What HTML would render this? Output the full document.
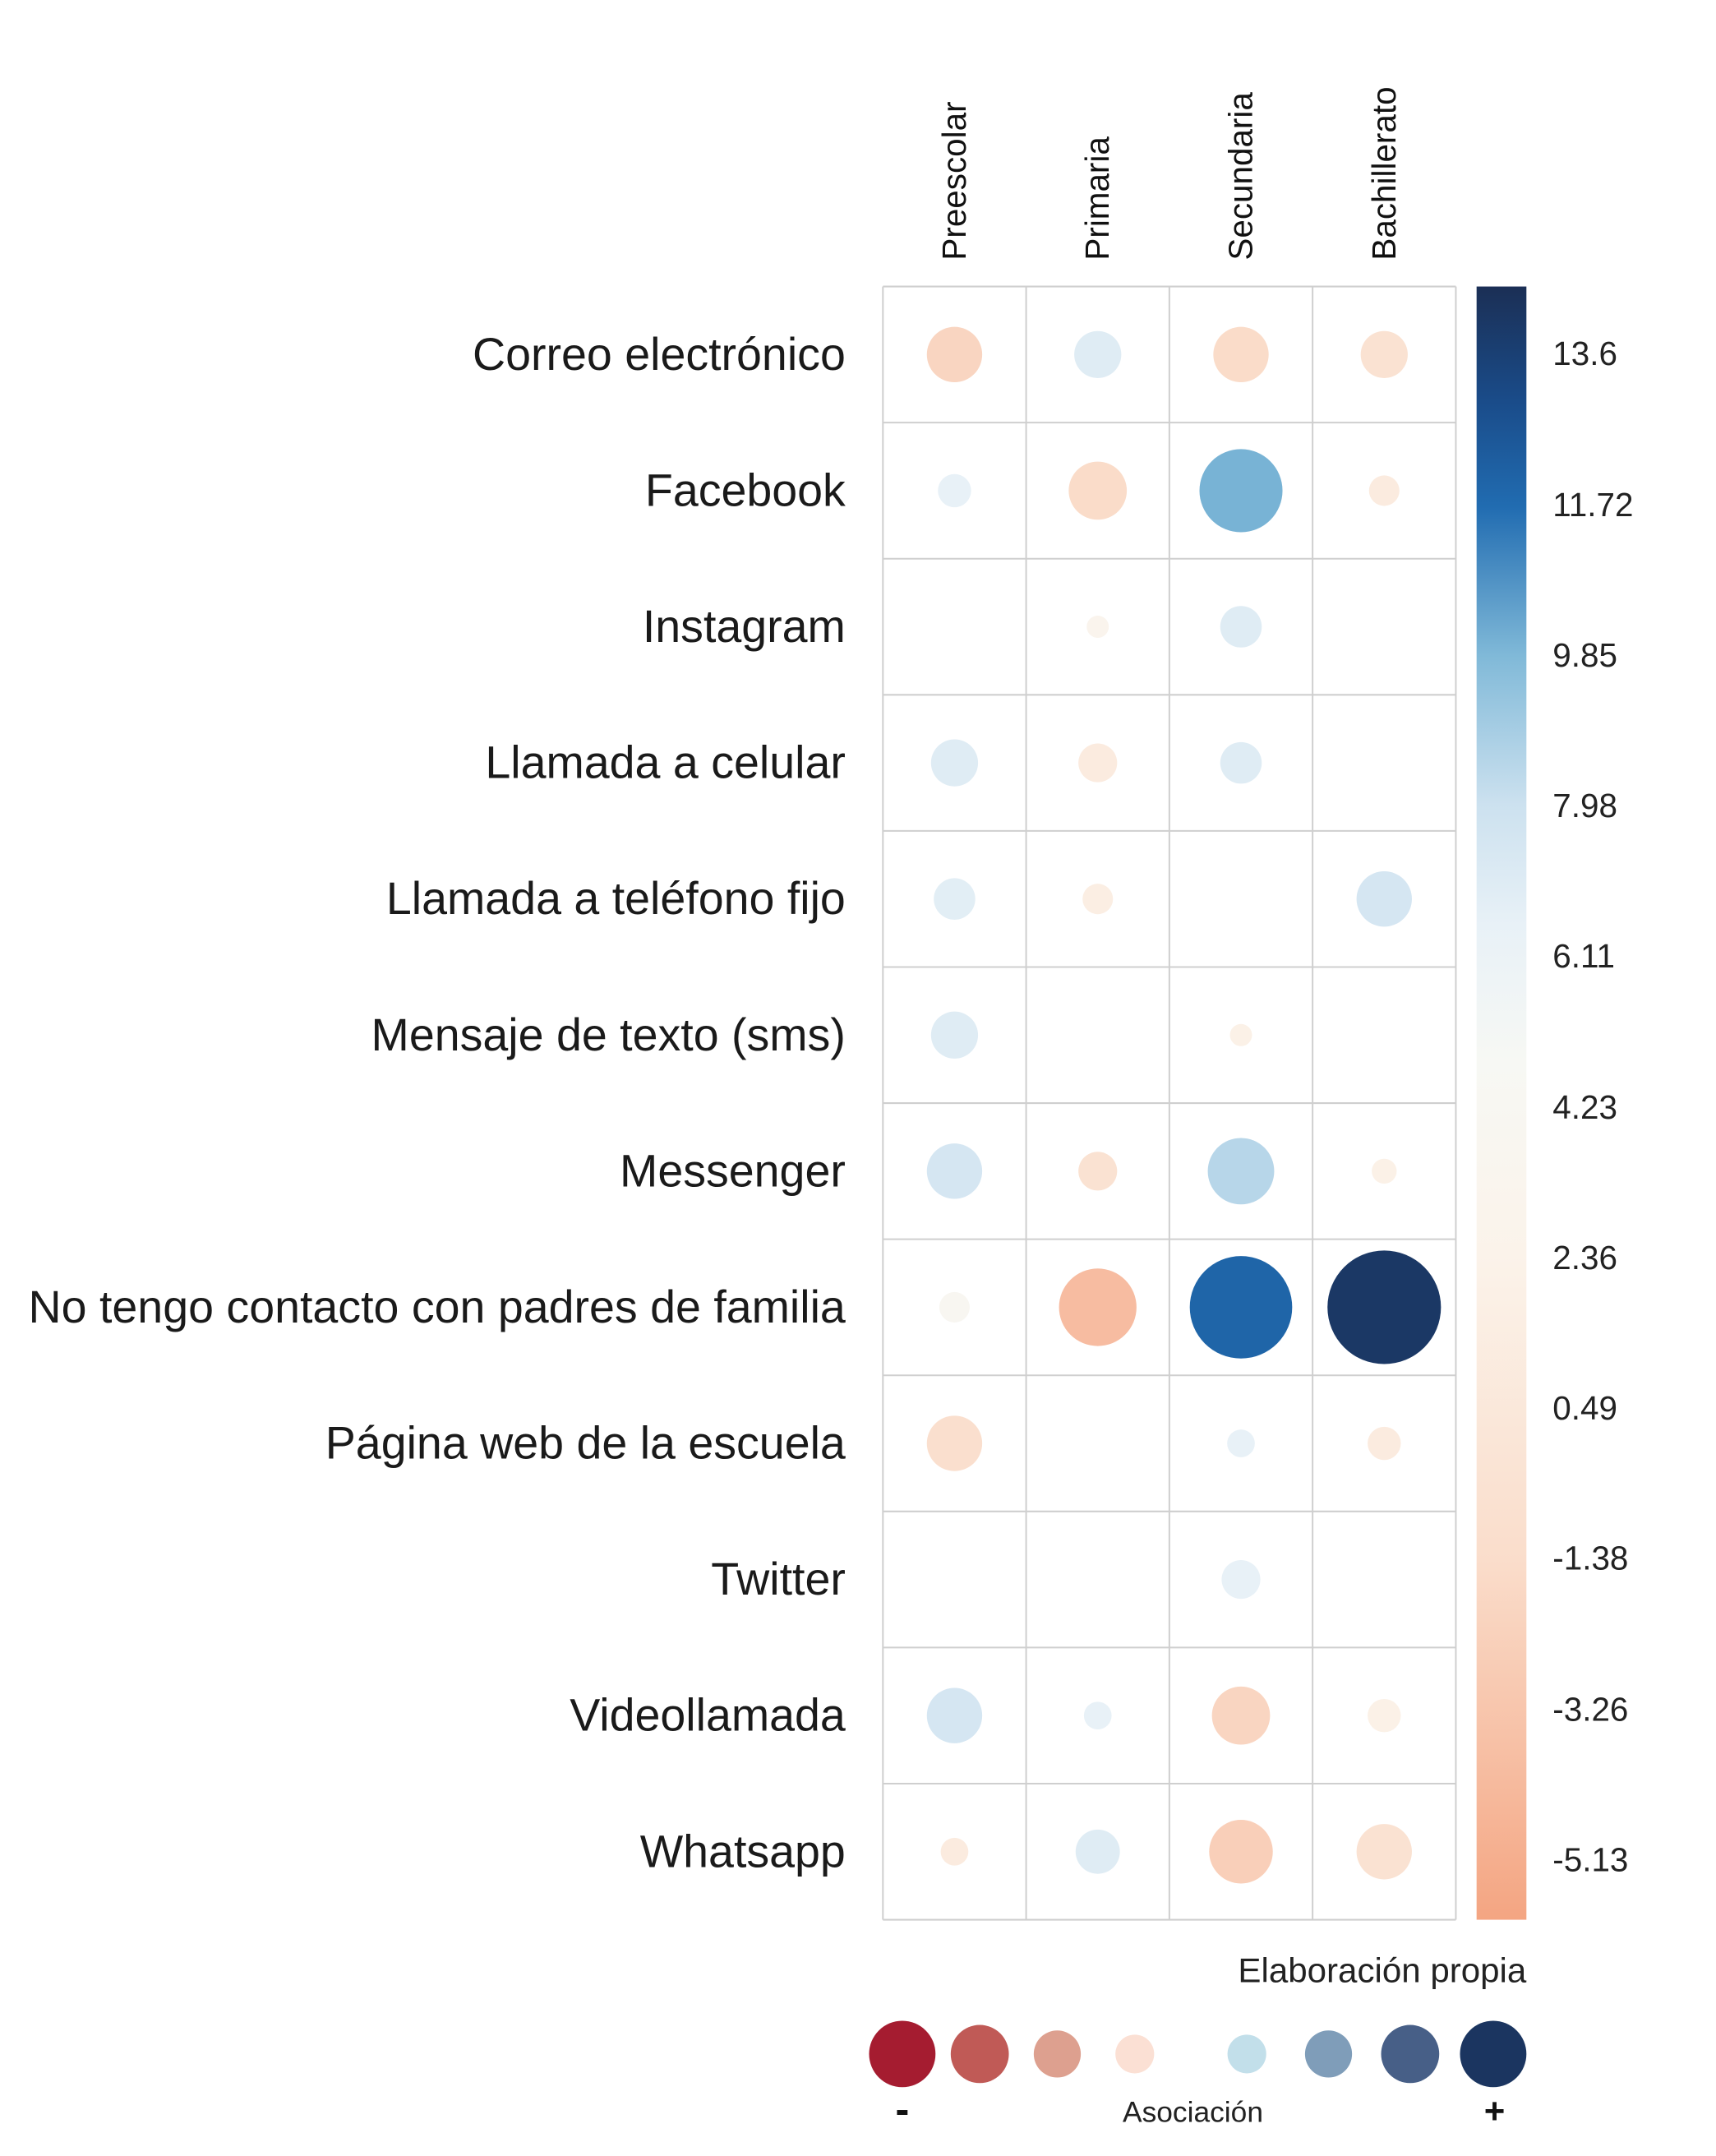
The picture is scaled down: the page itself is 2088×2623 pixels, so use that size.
<!DOCTYPE html>
<html><head><meta charset="utf-8"><style>
html,body{margin:0;padding:0;background:#fff;}
svg{display:block;font-family:"Liberation Sans",sans-serif;}
</style></head><body>
<svg id="chart" width="2088" height="2623" viewBox="0 0 1240 1557.7" preserveAspectRatio="none" xmlns="http://www.w3.org/2000/svg">
<defs><linearGradient id="cbgrad" x1="0" y1="1" x2="0" y2="0"></linearGradient></defs>
<g id="grid"></g>
<g id="rowlabels"></g>
<g id="collabels"></g>
<g id="bubbles"></g>
<rect x="1067" y="207" width="36" height="1180" fill="url(#cbgrad)"/>
<g id="cbticks"></g>
<text x="1103" y="1432" text-anchor="end" font-size="25" fill="#222">Elaboración propia</text>
<g id="legend"></g>
<text x="652" y="1534" text-anchor="middle" font-size="30" font-weight="bold" fill="#111">-</text>
<text x="862" y="1533" text-anchor="middle" font-size="21" fill="#222">Asociación</text>
<text x="1080" y="1534" text-anchor="middle" font-size="26" font-weight="bold" fill="#111">+</text>
</svg>
<script>
const rows=["Correo electrónico","Facebook","Instagram","Llamada a celular","Llamada a teléfono fijo","Mensaje de texto (sms)","Messenger","No tengo contacto con padres de familia","Página web de la escuela","Twitter","Videollamada","Whatsapp"];
const cols=["Preescolar","Primaria","Secundaria","Bachillerato"];
const values=[
[-2,7,-1.5,-0.5],
[6.5,-1.5,10,1],
[null,3,7,null],
[7,1,7,null],
[6.8,1.5,null,7.5],
[7,null,2,null],
[7.5,-0.5,8.5,2],
[4,-4,12,14],
[-1,null,6.5,1],
[null,null,6.5,null],
[7.5,6.5,-2,2],
[1,7,-2.5,-0.5]];
const sizes=[
[20,17,20,17],
[12,21,30,11],
[0,8,15,0],
[17,14,15,0],
[15,11,0,20],
[17,0,8,0],
[20,14,24,9],
[11,28,37,41],
[20,0,10,12],
[0,0,14,0],
[20,10,21,12],
[10,16,23,20]];
const tickLabels=["13.6","11.72","9.85","7.98","6.11","4.23","2.36","0.49","-1.38","-3.26","-5.13"];
const tickValues=[13.6,11.72,9.85,7.98,6.11,4.23,2.36,0.49,-1.38,-3.26,-5.13];
const legendSizes=[24,21,17,14,14,17,21,24];
const legendColors=["#a51c30","#c05a56","#dda08f","#fbe0d4","#c2dfea","#7f9db9","#475f87","#1b3560"];

const NS="http://www.w3.org/2000/svg";
const gx0=638,gx1=1052,gy0=207,gy1=1387;
const cw=(gx1-gx0)/cols.length, rh=(gy1-gy0)/rows.length;
const vTop=14.44,vBot=-5.87;
const xPos=i=>gx0+cw*(i+0.5);
const yPos=j=>gy0+rh*(j+0.5);
const yVal=v=>gy0+(vTop-v)/(vTop-vBot)*(gy1-gy0);
const stops=[[-5.87,[244,165,130]],[-1.4,[250,221,203]],[2.4,[251,243,234]],[4.8,[247,248,244]],[6.5,[232,241,247]],[8,[204,225,239]],[9.85,[128,185,216]],[11.7,[33,108,177]],[13.0,[26,76,138]],[14.44,[27,47,85]]];
function color(v){
 if(v<=stops[0][0])return rgb(stops[0][1]);
 for(let i=1;i<stops.length;i++){if(v<=stops[i][0]){const a=stops[i-1],b=stops[i];const t=(v-a[0])/(b[0]-a[0]);return rgb(a[1].map((c,k)=>c+(b[1][k]-c)*t));}}
 return rgb(stops[stops.length-1][1]);
}
function rgb(a){return "rgb("+a.map(Math.round).join(",")+")";}
function el(tag,attrs,parent){const e=document.createElementNS(NS,tag);for(const k in attrs)e.setAttribute(k,attrs[k]);parent.appendChild(e);return e;}

const grad=document.getElementById("cbgrad");
stops.forEach(s=>{el("stop",{offset:((s[0]-vBot)/(vTop-vBot)).toFixed(4),"stop-color":rgb(s[1])},grad);});

const grid=document.getElementById("grid");
for(let i=0;i<=cols.length;i++){const l=el("line",{x1:gx0+cw*i,x2:gx0+cw*i,y1:gy0,y2:gy1,stroke:"#cfcfcf","stroke-width":1.2},grid);

}
for(let j=0;j<=rows.length;j++){const l=el("line",{x1:gx0,x2:gx1,y1:gy0+rh*j,y2:gy0+rh*j,stroke:"#cfcfcf","stroke-width":1.2},grid);

}

const rl=document.getElementById("rowlabels");
rows.forEach((r,j)=>{const t=el("text",{x:611,y:yPos(j)+11,"text-anchor":"end","font-size":33,fill:"#1a1a1a"},rl);t.textContent=r;

});
const cl=document.getElementById("collabels");
cols.forEach((c,i)=>{const x=xPos(i)+8,y=188;const t=el("text",{x:x,y:y,transform:`rotate(-90 ${x} ${y})`,"font-size":24,fill:"#111"},cl);t.textContent=c;

});

const bg=document.getElementById("bubbles");
values.forEach((row,j)=>row.forEach((v,i)=>{if(v===null||!sizes[j][i])return;
const c=el("circle",{cx:xPos(i),cy:yPos(j),r:sizes[j][i],fill:color(v)},bg);

}));

const tk=document.getElementById("cbticks");
tickValues.forEach((v,k)=>{const t=el("text",{x:1122,y:yVal(v)+8,"font-size":24,fill:"#222"},tk);t.textContent=tickLabels[k];

});

const lg=document.getElementById("legend");
const lx=[652,708,764,820,901,960,1019,1079];
legendSizes.forEach((s,k)=>{const c=el("circle",{cx:lx[k],cy:1484,r:s,fill:legendColors[k]},lg);

});
</script>
</body></html>
